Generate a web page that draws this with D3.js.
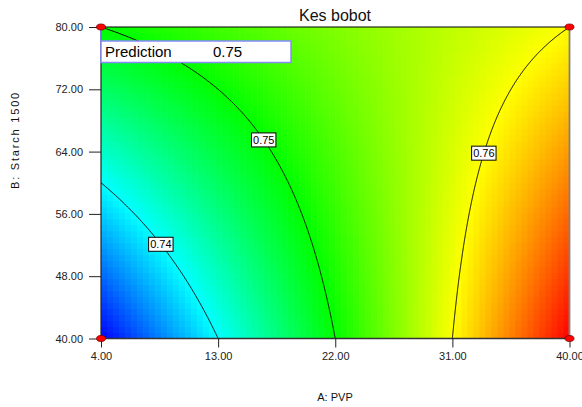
<!DOCTYPE html>
<html>
<head>
<meta charset="utf-8">
<script src="https://cdn.jsdelivr.net/npm/d3@7"></script>
<style>
  html, body { margin: 0; padding: 0; background: #fff; }
  svg { display: block; font-family: "Liberation Sans", Arial, sans-serif; }
</style>
</head>
<body>
<svg id="chart" width="582" height="407"></svg>
<script>
// ---------------- data ----------------
const chartTitle = "Kes bobot";
const xAxisTitle = "A: PVP";
const yAxisTitle = "B: Starch 1500";
const xDomain = [4, 40];          // A: PVP
const yDomain = [40, 80];         // B: Starch 1500
const xTicks = [4, 13, 22, 31, 40];
const yTicks = [40, 48, 56, 64, 72, 80];
// fitted model in coded units (2FI)
const modelTerms = ["Intercept", "A", "B", "AB"];
const modelCoefs = [0.7525, 0.0125, 0.0025, -0.0075];
const colorRange = [0.73, 0.77];
const contourLevels = [0.74, 0.75, 0.76];
const contourLabelB = [52.1, 65.5, 63.8];   // B position of each label
const designA = [4, 40, 4, 40];
const designB = [40, 40, 80, 80];
const predictionA = 4, predictionB = 80, predictionValue = 0.75;

// ---------------- setup ----------------
const svg = d3.select("#chart");
const pLeft = 101, pRight = 569.5, pTop = 27, pBottom = 338.5;
const x = d3.scaleLinear().domain(xDomain).range([pLeft, pRight]);
const y = d3.scaleLinear().domain(yDomain).range([pBottom, pTop]);

const aMid = (xDomain[0] + xDomain[1]) / 2, aHalf = (xDomain[1] - xDomain[0]) / 2;
const bMid = (yDomain[0] + yDomain[1]) / 2, bHalf = (yDomain[1] - yDomain[0]) / 2;
function predict(A, B) {
  const a = (A - aMid) / aHalf, b = (B - bMid) / bHalf;
  const t = { "Intercept": 1, "A": a, "B": b, "AB": a * b };
  return d3.sum(modelTerms, (k, i) => modelCoefs[i] * t[k]);
}

const nStops = 4;
const color = d3.scaleLinear()
  .domain(d3.range(nStops + 1).map(i => colorRange[0] + (colorRange[1] - colorRange[0]) * i / nStops))
  .range(["#0000ff", "#00ffff", "#00ff00", "#ffff00", "#ff0000"])
  .clamp(true);

// ---------------- surface cells ----------------
const nCols = 78, nRows = 52;
const cells = [];
for (let j = 0; j < nRows; j++) {
  for (let i = 0; i < nCols; i++) {
    const A0 = xDomain[0] + (xDomain[1] - xDomain[0]) * i / nCols;
    const A1 = xDomain[0] + (xDomain[1] - xDomain[0]) * (i + 1) / nCols;
    const B0 = yDomain[0] + (yDomain[1] - yDomain[0]) * j / nRows;
    const B1 = yDomain[0] + (yDomain[1] - yDomain[0]) * (j + 1) / nRows;
    cells.push({ A0, A1, B0, B1, v: predict((A0 + A1) / 2, (B0 + B1) / 2) });
  }
}
svg.append("g").selectAll("rect").data(cells).join("rect")
  .attr("x", d => x(d.A0))
  .attr("y", d => y(d.B1))
  .attr("width", d => Math.min(x(d.A1) + 0.6, pRight) - x(d.A0))
  .attr("height", d => Math.min(y(d.B0) + 0.6, pBottom) - y(d.B1))
  .attr("fill", d => color(d.v));

// ---------------- contour lines ----------------
svg.append("clipPath").attr("id", "plotclip")
  .append("rect").attr("x", pLeft).attr("y", pTop).attr("width", pRight - pLeft).attr("height", pBottom - pTop);

function contourPoints(level) {
  const pts = [];
  const rows = 500, cols = 600;
  for (let r = 0; r <= rows; r++) {
    const B = yDomain[0] + (yDomain[1] - yDomain[0]) * r / rows;
    let prevA = xDomain[0], prevV = predict(prevA, B) - level;
    if (Math.abs(prevV) < 1e-12) { pts.push([prevA, B]); continue; }
    for (let c = 1; c <= cols; c++) {
      const A = xDomain[0] + (xDomain[1] - xDomain[0]) * c / cols;
      const v = predict(A, B) - level;
      if (prevV * v <= 0) {
        const t = prevV / (prevV - v);
        pts.push([prevA + t * (A - prevA), B]);
        break;
      }
      prevA = A; prevV = v;
    }
  }
  return pts;
}
function crossingAt(level, B) {
  const cols = 2000;
  let prevA = xDomain[0], prevV = predict(prevA, B) - level;
  for (let c = 1; c <= cols; c++) {
    const A = xDomain[0] + (xDomain[1] - xDomain[0]) * c / cols;
    const v = predict(A, B) - level;
    if (prevV * v <= 0) return prevA + prevV / (prevV - v) * (A - prevA);
    prevA = A; prevV = v;
  }
  return null;
}
const line = d3.line().x(d => x(d[0])).y(d => y(d[1]));
const cg = svg.append("g").attr("clip-path", "url(#plotclip)");
contourLevels.forEach(lv => {
  cg.append("path").attr("d", line(contourPoints(lv)))
    .attr("fill", "none").attr("stroke", "#000").attr("stroke-width", 1);
});

// contour labels
contourLevels.forEach((lv, i) => {
  const B = contourLabelB[i];
  const A = crossingAt(lv, B);
  if (A === null) return;
  const g = svg.append("g").attr("transform", `translate(${x(A)},${y(B)})`);
  const rect = g.append("rect").attr("fill", "#fff").attr("stroke", "#000").attr("stroke-width", 1);
  const txt = g.append("text").attr("text-anchor", "middle").attr("dy", "0.36em")
    .attr("font-size", 11).attr("fill", "#000").text(d3.format(".2f")(lv));
  const bb = txt.node().getBBox();
  rect.attr("x", -bb.width / 2 - 1.5).attr("y", -7).attr("width", bb.width + 3).attr("height", 14);
});

// ---------------- frame ----------------
svg.append("line").attr("x1", pLeft).attr("x2", pRight).attr("y1", pTop).attr("y2", pTop).attr("stroke", "#000").attr("stroke-width", 1);
svg.append("line").attr("x1", pLeft).attr("x2", pLeft).attr("y1", pTop).attr("y2", pBottom).attr("stroke", "#222").attr("stroke-width", 1.2);
svg.append("line").attr("x1", pLeft).attr("x2", pRight).attr("y1", pBottom).attr("y2", pBottom).attr("stroke", "#333").attr("stroke-width", 1.5);
svg.append("line").attr("x1", pRight).attr("x2", pRight).attr("y1", pTop).attr("y2", pBottom).attr("stroke", "#808080").attr("stroke-width", 1.8);

// ---------------- axes ----------------
const fmt = d3.format(".2f");
const yAxis = svg.append("g").attr("transform", `translate(${pLeft},0)`)
  .call(d3.axisLeft(y).tickValues(yTicks).tickFormat(fmt).tickSize(12).tickPadding(6));
const xAxis = svg.append("g").attr("transform", `translate(0,${pBottom})`)
  .call(d3.axisBottom(x).tickValues(xTicks).tickFormat(fmt).tickSize(9).tickPadding(5));
[yAxis, xAxis].forEach(ax => {
  ax.select(".domain").remove();
  ax.selectAll("text").attr("font-size", 11).attr("fill", "#222")
    .attr("font-family", "'Liberation Sans', Arial, sans-serif");
  ax.selectAll("line").attr("stroke", "#222");
});

// titles
svg.append("text").attr("x", 335).attr("y", 20.5).attr("text-anchor", "middle")
  .attr("font-size", 16).attr("fill", "#111").text(chartTitle);
svg.append("text").attr("x", 335).attr("y", 401).attr("text-anchor", "middle")
  .attr("font-size", 11).attr("fill", "#111").text(xAxisTitle);
svg.append("text").attr("transform", "translate(19,140) rotate(-90)").attr("text-anchor", "middle")
  .attr("font-size", 11).attr("fill", "#111").attr("letter-spacing", "1.8px").text(yAxisTitle);

// ---------------- prediction flag ----------------
const px = x(predictionA), py = y(predictionB);
svg.append("line").attr("x1", px).attr("x2", px).attr("y1", py).attr("y2", py + 14)
  .attr("stroke", "#8080ff").attr("stroke-width", 1.5);
svg.append("rect").attr("x", px).attr("y", py + 14).attr("width", 190).attr("height", 21.5)
  .attr("fill", "#fff").attr("stroke", "#8888ff").attr("stroke-width", 1.5);
svg.append("text").attr("x", px + 4).attr("y", py + 30).attr("font-size", 15).attr("fill", "#000").text("Prediction");
svg.append("text").attr("x", px + 112).attr("y", py + 30).attr("font-size", 15).attr("fill", "#000").text(fmt(predictionValue));

// ---------------- design points ----------------
svg.append("g").selectAll("ellipse").data(designA.map((a, i) => [a, designB[i]])).join("ellipse")
  .attr("cx", d => x(d[0])).attr("cy", d => y(d[1]))
  .attr("rx", 4.5).attr("ry", 3)
  .attr("fill", "#ff0000").attr("stroke", "#800000").attr("stroke-width", 0.8);
</script>
</body>
</html>
